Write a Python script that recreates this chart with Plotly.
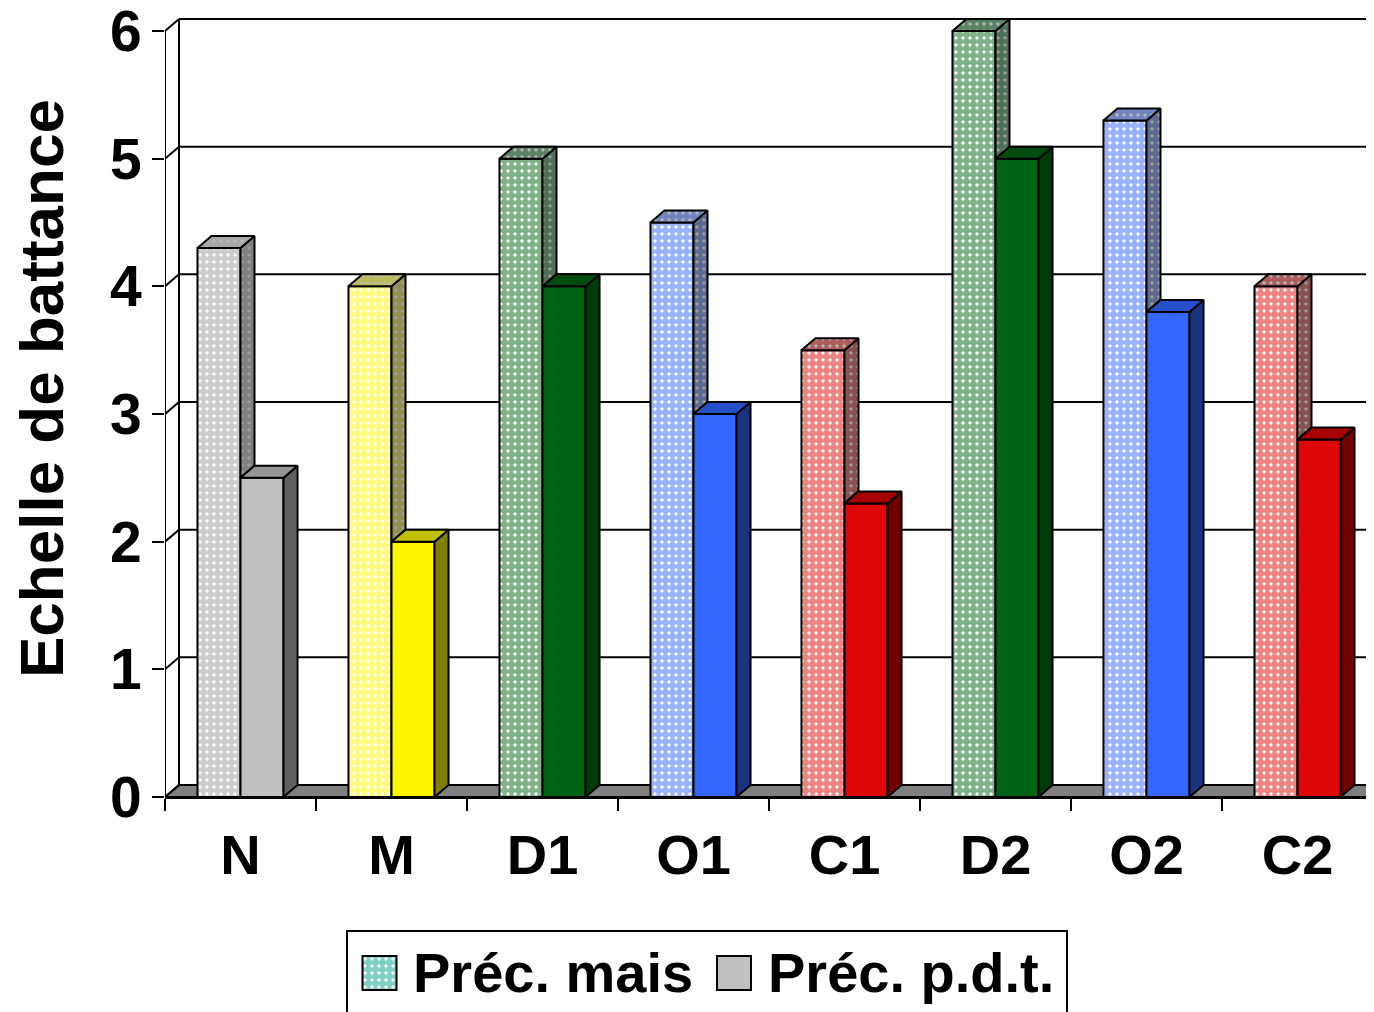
import plotly.graph_objects as go

# ---------------- data ----------------
categories = ['N', 'M', 'D1', 'O1', 'C1', 'D2', 'O2', 'C2']
prec_mais = [4.3, 4.0, 5.0, 4.5, 3.5, 6.0, 5.3, 4.0]
prec_pdt = [2.5, 2.0, 4.0, 3.0, 2.3, 5.0, 3.8, 2.8]
y_ticks = [0, 1, 2, 3, 4, 5, 6]
series_names = ['Préc. mais', 'Préc. p.d.t.']
y_title = 'Echelle de battance'

# ---------------- styles ----------------
face_col = ['#C0C0C0', '#FFF500', '#006414', '#3366FF', '#DD0806', '#006414', '#3366FF', '#DD0806']
mais_fg = ['#999999', '#FFF500', '#006414', '#3366FF', '#DD0806', '#006414', '#3366FF', '#DD0806']
side_col = ['#606060', '#808000', '#003C0A', '#1A3380', '#700000', '#003C0A', '#1A3380', '#700000']
top_col = ['#969696', '#C0C000', '#004B0F', '#2650C8', '#A60000', '#004B0F', '#2650C8', '#A60000']
FONT = 'Liberation Sans, Arial, sans-serif'

# page offset (browser body margin) compensation
OFF = 8
SCR_W, SCR_H = 1374, 1012
W_FIG, H_FIG = SCR_W - OFF, SCR_H - OFF


def px(p):   # screen x pixel -> paper
    return (p - OFF) / W_FIG


def py(p):   # screen y pixel -> paper
    return (H_FIG - (p - OFF)) / H_FIG


PL, PR, PT, PB = 165, 1373, 17, 797   # plot area in screen pixels
YMAX = 6.11
BW = 0.285                            # bar width (category units)
DX = 14 / ((PR - PL) / 8)             # depth offset x (category units)
DY = 12 / ((PB - PT) / YMAX)          # depth offset y (value units)
PAT = dict(shape='.', size=7, solidity=0.8)

fig = go.Figure()
idx = list(range(len(categories)))

# front faces
fig.add_trace(go.Bar(
    x=idx, y=prec_mais, width=BW, offset=-BW, name=series_names[0], showlegend=False,
    marker=dict(color='white', line=dict(color='black', width=2),
                pattern=dict(fgcolor=mais_fg, bgcolor='white', **PAT)),
    hoverinfo='skip'))
fig.add_trace(go.Bar(
    x=idx, y=prec_pdt, width=BW, offset=0, name=series_names[1], showlegend=False,
    marker=dict(color=face_col, line=dict(color='black', width=2)),
    hoverinfo='skip'))


def poly(xs, ys, fill, pattern=None):
    kw = dict(x=xs + [xs[0]], y=ys + [ys[0]], mode='lines', fill='toself', fillcolor=fill,
              line=dict(color='black', width=2), showlegend=False, hoverinfo='skip')
    if pattern is not None:
        kw['fillpattern'] = pattern
    fig.add_trace(go.Scatter(**kw))


for i, (vm, vp) in enumerate(zip(prec_mais, prec_pdt)):
    x0, x1, x2 = i - BW, i, i + BW
    # maize side (visible part above the p.d.t. bar)
    poly([x1, x1 + DX, x1 + DX, x1], [vp, vp + DY, vm + DY, vm], side_col[i],
         dict(fgcolor=side_col[i], bgcolor='#A0A0A0', **PAT))
    # maize top
    poly([x0, x0 + DX, x1 + DX, x1], [vm, vm + DY, vm + DY, vm], top_col[i],
         dict(fgcolor=top_col[i], bgcolor='#B8B8B8', **PAT))
    # p.d.t. side
    poly([x2, x2 + DX, x2 + DX, x2], [0, DY, vp + DY, vp], side_col[i])
    # p.d.t. top
    poly([x1, x1 + DX, x2 + DX, x2], [vp, vp + DY, vp + DY, vp], top_col[i])

# ---------------- walls / floor ----------------
XL, XR = -0.5, len(categories) - 0.5
BLK = dict(color='black', width=2)
shapes = []
shapes.append(dict(type='path', xref='x', yref='y', layer='below',
                   path=f'M {XL},0 L {XL + DX},{DY} L {XR + DX},{DY} L {XR},0 Z',
                   fillcolor='#808080', line=BLK))
for v in y_ticks[1:]:
    shapes.append(dict(type='line', xref='x', yref='y', layer='below',
                       x0=XL + DX, x1=XR + DX, y0=v + DY, y1=v + DY, line=BLK))
for v in y_ticks:
    shapes.append(dict(type='line', xref='x', yref='y', layer='below',
                       x0=XL, x1=XL + DX, y0=v, y1=v + DY, line=BLK))
shapes.append(dict(type='line', xref='x', yref='y', layer='below',
                   x0=XL + DX, x1=XL + DX, y0=DY, y1=y_ticks[-1] + DY, line=BLK))
shapes.append(dict(type='line', xref='x', yref='y', layer='below',
                   x0=XL, x1=XL, y0=0, y1=y_ticks[-1], line=BLK))

# ---------------- legend (manual) ----------------
LG_TOP = 931
shapes.append(dict(type='rect', xref='paper', yref='paper',
                   x0=px(347), x1=px(1067), y0=-0.01, y1=py(LG_TOP),
                   line=BLK, fillcolor='white', layer='below'))
fig.add_trace(go.Bar(
    x=[379.5], y=[34], base=[956], width=34, offset=-17, xaxis='x2', yaxis='y2',
    showlegend=False, hoverinfo='skip',
    marker=dict(color='white', line=dict(color='black', width=2),
                pattern=dict(fgcolor='#00A08A', bgcolor='white', **PAT))))
fig.add_trace(go.Bar(
    x=[734], y=[34], base=[956], width=34, offset=-17, xaxis='x2', yaxis='y2',
    showlegend=False, hoverinfo='skip',
    marker=dict(color='#C0C0C0', line=dict(color='black', width=2))))

LEG_FONT = dict(family=FONT, size=56, color='black', weight='bold')
annotations = [
    dict(text=series_names[0], x=px(411), y=py(972), xref='paper', yref='paper',
         xanchor='left', yanchor='middle', showarrow=False, font=LEG_FONT),
    dict(text=series_names[1], x=px(766), y=py(972), xref='paper', yref='paper',
         xanchor='left', yanchor='middle', showarrow=False, font=LEG_FONT),
    dict(text=y_title, x=px(41), y=py(389), xref='paper', yref='paper',
         xanchor='center', yanchor='middle', showarrow=False, textangle=-90,
         font=dict(family=FONT, size=62, color='black', weight='bold')),
]

fig.update_layout(
    width=W_FIG, height=H_FIG, margin=dict(l=0, r=0, t=0, b=0, pad=0),
    paper_bgcolor='white', plot_bgcolor='white', showlegend=False,
    shapes=shapes, annotations=annotations,
    xaxis=dict(domain=[px(PL), px(PR)], range=[XL, XR], tickmode='array',
               tickvals=idx, ticktext=categories, ticks='', showgrid=False, zeroline=False,
               showline=True, linecolor='black', linewidth=2, automargin=False,
               ticklabelstandoff=8, ticklabeloverflow='allow',
               tickfont=dict(family=FONT, size=56, color='black', weight='bold'),
               minor=dict(tickmode='linear', tick0=XL, dtick=1, ticks='outside', ticklen=12,
                          tickwidth=2, tickcolor='black', showgrid=False)),
    yaxis=dict(domain=[py(PB), py(PT)], range=[0, YMAX],
               tickmode='array', tickvals=y_ticks, ticks='outside', ticklen=12, tickwidth=2,
               tickcolor='black', showgrid=False, zeroline=False, showline=False,
               automargin=False, ticklabelstandoff=-1, ticklabeloverflow='allow',
               tickfont=dict(family=FONT, size=57, color='black', weight='bold')),
    xaxis2=dict(domain=[0, 1], range=[OFF, SCR_W], anchor='y2', visible=False, fixedrange=True),
    yaxis2=dict(domain=[0, py(LG_TOP)], range=[SCR_H, LG_TOP], anchor='x2',
                visible=False, fixedrange=True),
)

fig.write_html('out.html')
